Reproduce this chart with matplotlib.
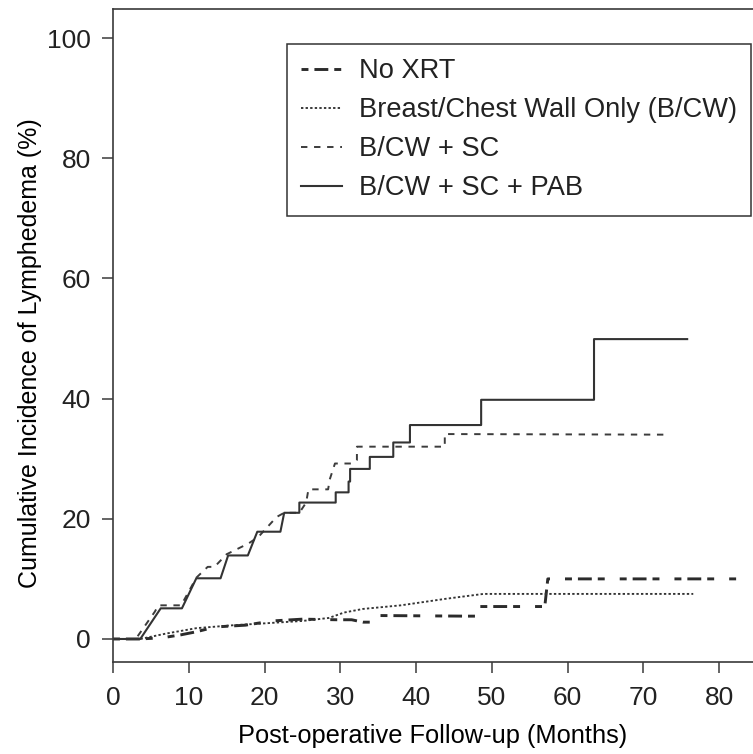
import matplotlib
matplotlib.use("Agg")
import matplotlib.pyplot as plt

# Cumulative incidence of lymphedema by radiation field (months, %)
noxrt_months = [0, 3.5, 6.5, 9.0, 11.0, 13.5, 17.5, 21.0, 25.0, 29.5, 31.5, 33.0,
                34.8, 35.2, 46.7, 48.4, 48.4, 57.0, 57.4, 82.3]
noxrt_pct = [0, 0, 0.2, 0.7, 1.2, 2.0, 2.3, 3.0, 3.3, 3.2, 3.2, 2.8,
             2.8, 3.9, 3.8, 3.8, 5.4, 5.4, 10.0, 10.0]

bcw_months = [0, 3.6, 7.0, 11.0, 16.0, 20.0, 25.0, 28.5, 30.5, 33.0, 38.0, 44.0, 48.9, 76.6]
bcw_pct = [0, 0, 0.9, 1.8, 2.3, 2.6, 3.0, 3.5, 4.4, 5.0, 5.6, 6.7, 7.5, 7.5]

sc_months = [0, 3.0, 5.5, 6.0, 9.0, 11.0, 12.5, 13.4, 15.0, 17.9, 19.2, 21.6, 22.6,
             24.6, 25.5, 25.8, 28.4, 28.6, 29.3, 31.5, 32.2, 32.2, 43.8, 43.8, 73.1]
sc_pct = [0, 0, 4.5, 5.6, 5.6, 10.2, 12.0, 12.0, 14.1, 15.9, 17.0, 20.3, 21.0,
          21.0, 22.7, 24.9, 24.9, 26.5, 29.2, 29.2, 29.8, 32.0, 32.0, 34.1, 34.0]

pab_months = [0, 3.6, 6.3, 9.1, 11.0, 14.2, 15.2, 17.8, 19.05, 22.1, 22.6, 24.6, 24.6,
              29.4, 29.4, 31.1, 31.1, 31.3, 31.3, 33.9, 33.9, 37.0, 37.0, 39.2, 39.2,
              48.6, 48.6, 63.5, 63.5, 75.8]
pab_pct = [0, 0, 5.1, 5.1, 10.1, 10.1, 13.9, 13.9, 17.85, 17.85, 21.0, 21.0, 22.7,
           22.7, 24.4, 24.4, 26.2, 26.2, 28.3, 28.3, 30.3, 30.3, 32.7, 32.7, 35.6,
           35.6, 39.8, 39.8, 49.9, 49.9]

labels = ["No XRT", "Breast/Chest Wall Only (B/CW)", "B/CW + SC", "B/CW + SC + PAB"]
x_ticks = [0, 10, 20, 30, 40, 50, 60, 70, 80]
y_ticks = [0, 20, 40, 60, 80, 100]

plt.rcParams["font.family"] = ["Liberation Sans", "DejaVu Sans"]
plt.rcParams["lines.scale_dashes"] = False
plt.rcParams["text.color"] = "#222222"

W, H = 753, 754
fig = plt.figure(figsize=(W / 100, H / 100), dpi=100)
ax = fig.add_axes([113 / W, 1 - 662 / H, 1 - 113 / W, (662 - 9.3) / H])

ax.plot(noxrt_months, noxrt_pct, color="#2b2b2b", lw=2.1,
        linestyle=(0, (5, 4.3, 10, 4.3, 5, 10.8)), label=labels[0])
ax.plot(bcw_months, bcw_pct, color="#333333", lw=1.35,
        linestyle=(0, (1.7, 1.6)), label=labels[1])
ax.plot(sc_months, sc_pct, color="#3c3c3c", lw=1.4,
        linestyle=(0, (4.6, 4.8)), label=labels[2])
ax.plot(pab_months, pab_pct, color="#333333", lw=1.5,
        linestyle="-", label=labels[3])

ax.set_xlim(0, (W - 113) / 7.575)
ax.set_ylim(-3.83, 104.78)
ax.set_xticks(x_ticks)
ax.set_yticks(y_ticks)
for side in ("left", "bottom", "top"):
    ax.spines[side].set_color("#3a3a3a")
    ax.spines[side].set_linewidth(1.2)
ax.spines["right"].set_visible(False)
ax.tick_params(axis="both", direction="out", length=8, width=1.1,
               color="#3a3a3a", labelsize=19, labelcolor="#222222")
ax.tick_params(axis="x", pad=9)
ax.tick_params(axis="y", pad=8)

ax.set_xlabel("Post-operative Follow-up (Months)", fontsize=18.3, labelpad=10)
ax.set_ylabel("Cumulative Incidence of Lymphedema (%)", fontsize=18)
ax.yaxis.set_label_coords(-0.111, 0.473)

leg = ax.legend(loc="upper right", bbox_to_anchor=(751 / W, 1 - 44 / H),
                bbox_transform=fig.transFigure, borderaxespad=0,
                fontsize=19.6, frameon=True, fancybox=False, framealpha=1,
                handlelength=1.5, handletextpad=0.62, labelspacing=0.48,
                borderpad=0.52)
leg.get_frame().set_edgecolor("#333333")
leg.get_frame().set_linewidth(1.1)

fig.savefig("out.png", dpi=100)
